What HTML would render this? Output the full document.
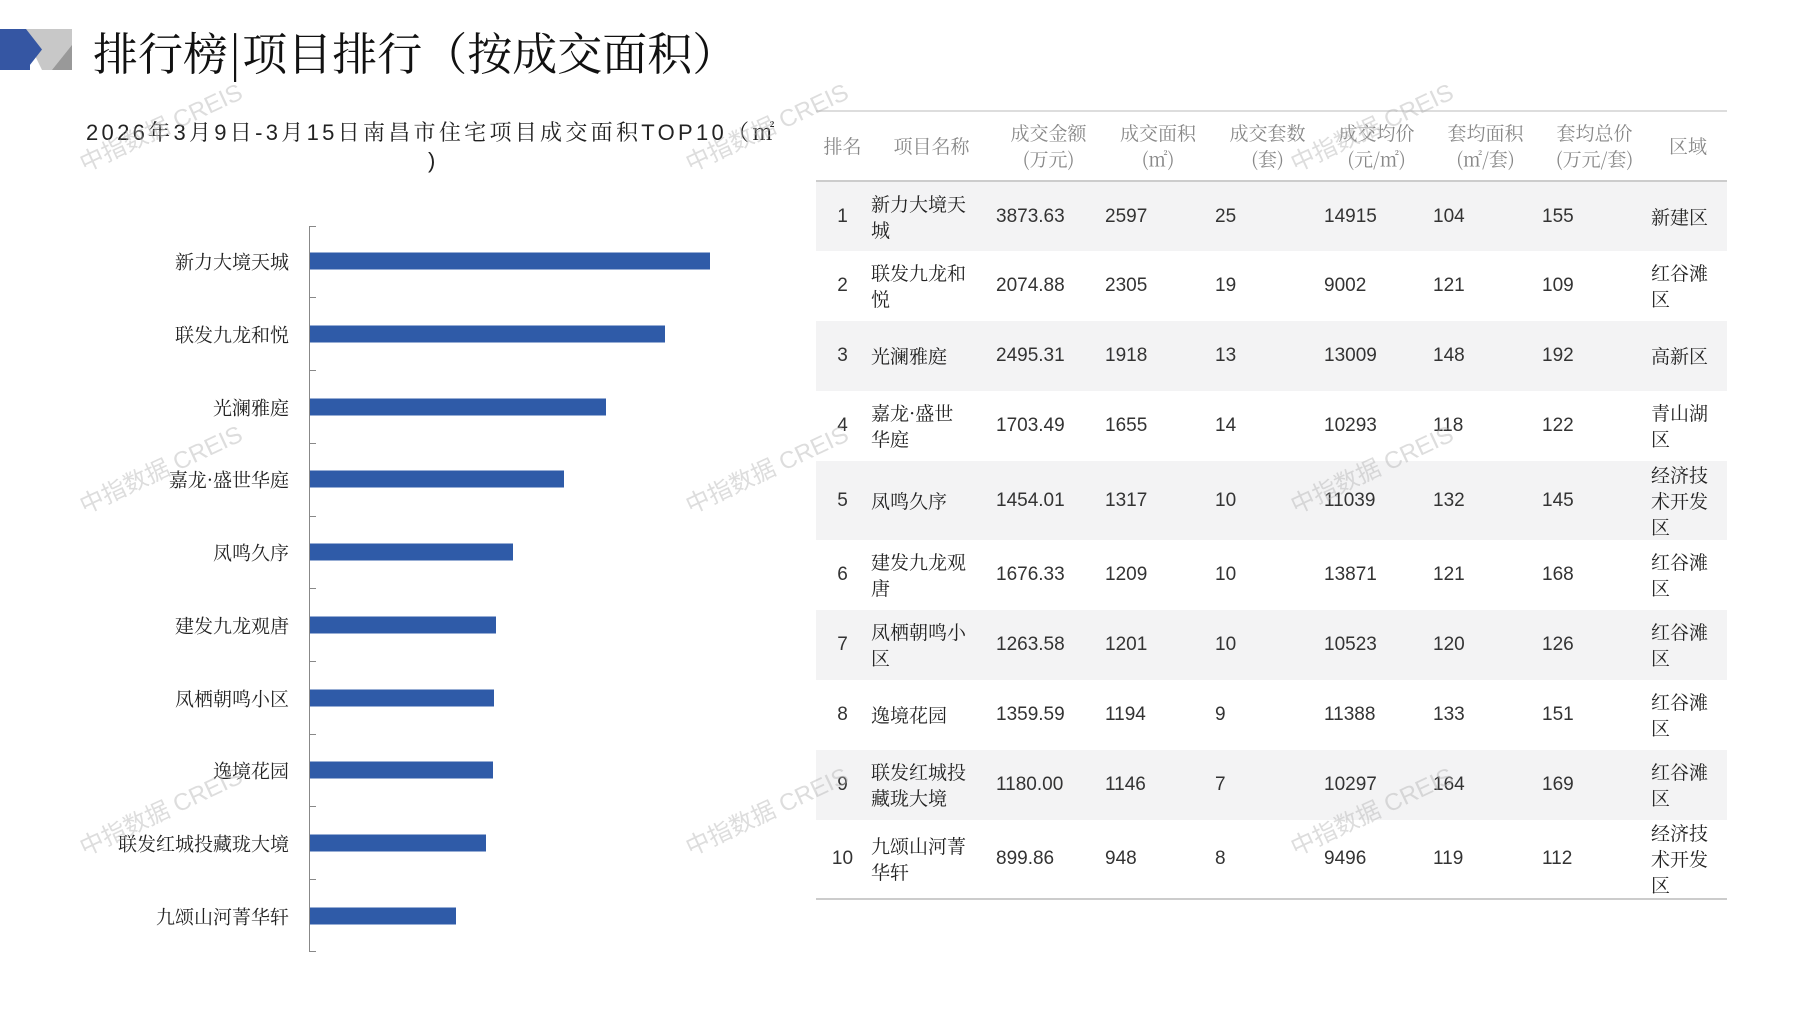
<!DOCTYPE html>
<html><head><meta charset="utf-8"><style>
body{margin:0;width:1797px;height:1010px;background:#fff;position:relative;overflow:hidden;font-family:"Liberation Sans","Noto Serif CJK SC",serif;}
.a{position:absolute;white-space:nowrap}
.lab{position:absolute;right:1508px;font-size:19px;color:#222;font-family:"Noto Serif CJK SC",serif;transform:translateY(-50%)}
.bar{position:absolute;left:310px;height:17px;background:#2f5ba8;transform:translateY(-50%)}
.tick{position:absolute;left:310px;width:6px;height:1px;background:#888}
.wm{position:absolute;color:rgba(180,180,180,.45);font-size:24px;transform:rotate(-25deg);font-family:"Liberation Sans","Noto Sans CJK SC",sans-serif;white-space:nowrap}
table{position:absolute;left:816px;top:110px;width:911px;border-collapse:collapse;font-size:19px;color:#333;font-family:"Liberation Sans","Noto Serif CJK SC",serif;table-layout:fixed}
th{color:#888;font-weight:normal;height:68px;border-top:2px solid #ddd;border-bottom:2px solid #ccc;line-height:26px;padding:0;font-family:"Noto Serif CJK SC",serif}
td{padding:0 2px;line-height:26px}
tr.g td{background:#f3f3f4}
td.n{font-family:"Noto Serif CJK SC",serif;color:#222}
</style></head><body>
<div class="a" style="left:0;top:29px;width:30px;height:41px;background:#3556a3"></div>
<div class="a" style="left:22px;top:29px;width:50px;height:41px;background:#c8c8c8;clip-path:polygon(0 0,100% 0,100% 100%,40% 100%)"></div>
<div class="a" style="left:14px;top:29px;width:40px;height:41px;background:#3556a3;clip-path:polygon(0 0,30% 0,70% 50%,30% 100%,0 100%)"></div>
<div class="a" style="left:52px;top:45px;width:20px;height:25px;background:#999;clip-path:polygon(100% 0,100% 100%,0 100%)"></div>
<div class="a" style="left:93px;top:18px;font-size:45px;color:#111;font-family:'Noto Serif CJK SC',serif">排行榜|项目排行（按成交面积）</div>
<div class="a" style="left:86px;top:116px;font-size:22px;letter-spacing:3.3px;color:#222;font-family:'Liberation Sans','Noto Serif CJK SC',serif">2026年3月9日-3月15日南昌市住宅项目成交面积TOP10（㎡</div>
<div class="a" style="left:428px;top:148px;font-size:22px;color:#222">)</div>
<div class="a" style="left:309px;top:226px;width:1px;height:726px;background:#888"></div>
<div class="tick" style="top:226px"></div><div class="tick" style="top:297px"></div><div class="tick" style="top:370px"></div><div class="tick" style="top:443px"></div><div class="tick" style="top:516px"></div><div class="tick" style="top:588px"></div><div class="tick" style="top:661px"></div><div class="tick" style="top:734px"></div><div class="tick" style="top:806px"></div><div class="tick" style="top:879px"></div><div class="tick" style="top:951px"></div>
<div class="bar" style="top:261px;width:400px"></div><div class="lab" style="top:261px">新力大境天城</div>
<div class="bar" style="top:334px;width:355px"></div><div class="lab" style="top:334px">联发九龙和悦</div>
<div class="bar" style="top:407px;width:296px"></div><div class="lab" style="top:407px">光澜雅庭</div>
<div class="bar" style="top:479px;width:254px"></div><div class="lab" style="top:479px">嘉龙·盛世华庭</div>
<div class="bar" style="top:552px;width:203px"></div><div class="lab" style="top:552px">凤鸣久序</div>
<div class="bar" style="top:625px;width:186px"></div><div class="lab" style="top:625px">建发九龙观唐</div>
<div class="bar" style="top:698px;width:184px"></div><div class="lab" style="top:698px">凤栖朝鸣小区</div>
<div class="bar" style="top:770px;width:183px"></div><div class="lab" style="top:770px">逸境花园</div>
<div class="bar" style="top:843px;width:176px"></div><div class="lab" style="top:843px">联发红城投藏珑大境</div>
<div class="bar" style="top:916px;width:146px"></div><div class="lab" style="top:916px">九颂山河菁华轩</div>
<table>
<colgroup><col style="width:53px"><col style="width:125px"><col style="width:109px"><col style="width:110px"><col style="width:109px"><col style="width:109px"><col style="width:109px"><col style="width:109px"><col style="width:78px"></colgroup>
<tr><th>排名</th><th>项目名称</th><th>成交金额<br>(万元)</th><th>成交面积<br>(㎡)</th><th>成交套数<br>(套)</th><th>成交均价<br>(元/㎡)</th><th>套均面积<br>(㎡/套)</th><th>套均总价<br>(万元/套)</th><th>区域</th></tr>
<tr class="g" style="height:70px"><td style="text-align:center">1</td><td class="n">新力大境天<br>城</td><td>3873.63</td><td>2597</td><td>25</td><td>14915</td><td>104</td><td>155</td><td class="n">新建区</td></tr>
<tr style="height:70px"><td style="text-align:center">2</td><td class="n">联发九龙和<br>悦</td><td>2074.88</td><td>2305</td><td>19</td><td>9002</td><td>121</td><td>109</td><td class="n">红谷滩<br>区</td></tr>
<tr class="g" style="height:70px"><td style="text-align:center">3</td><td class="n">光澜雅庭</td><td>2495.31</td><td>1918</td><td>13</td><td>13009</td><td>148</td><td>192</td><td class="n">高新区</td></tr>
<tr style="height:70px"><td style="text-align:center">4</td><td class="n">嘉龙·盛世<br>华庭</td><td>1703.49</td><td>1655</td><td>14</td><td>10293</td><td>118</td><td>122</td><td class="n">青山湖<br>区</td></tr>
<tr class="g" style="height:79px"><td style="text-align:center">5</td><td class="n">凤鸣久序</td><td>1454.01</td><td>1317</td><td>10</td><td>11039</td><td>132</td><td>145</td><td class="n">经济技<br>术开发<br>区</td></tr>
<tr style="height:70px"><td style="text-align:center">6</td><td class="n">建发九龙观<br>唐</td><td>1676.33</td><td>1209</td><td>10</td><td>13871</td><td>121</td><td>168</td><td class="n">红谷滩<br>区</td></tr>
<tr class="g" style="height:70px"><td style="text-align:center">7</td><td class="n">凤栖朝鸣小<br>区</td><td>1263.58</td><td>1201</td><td>10</td><td>10523</td><td>120</td><td>126</td><td class="n">红谷滩<br>区</td></tr>
<tr style="height:70px"><td style="text-align:center">8</td><td class="n">逸境花园</td><td>1359.59</td><td>1194</td><td>9</td><td>11388</td><td>133</td><td>151</td><td class="n">红谷滩<br>区</td></tr>
<tr class="g" style="height:70px"><td style="text-align:center">9</td><td class="n">联发红城投<br>藏珑大境</td><td>1180.00</td><td>1146</td><td>7</td><td>10297</td><td>164</td><td>169</td><td class="n">红谷滩<br>区</td></tr>
<tr style="height:79px;border-bottom:2px solid #ccc"><td style="text-align:center">10</td><td class="n">九颂山河菁<br>华轩</td><td>899.86</td><td>948</td><td>8</td><td>9496</td><td>119</td><td>112</td><td class="n">经济技<br>术开发<br>区</td></tr>
</table>
<div class="wm" style="left:72px;top:108px">中指数据 CREIS</div>
<div class="wm" style="left:678px;top:108px">中指数据 CREIS</div>
<div class="wm" style="left:1283px;top:108px">中指数据 CREIS</div>
<div class="wm" style="left:72px;top:450px">中指数据 CREIS</div>
<div class="wm" style="left:678px;top:450px">中指数据 CREIS</div>
<div class="wm" style="left:1283px;top:450px">中指数据 CREIS</div>
<div class="wm" style="left:72px;top:792px">中指数据 CREIS</div>
<div class="wm" style="left:678px;top:792px">中指数据 CREIS</div>
<div class="wm" style="left:1283px;top:792px">中指数据 CREIS</div>
</body></html>
